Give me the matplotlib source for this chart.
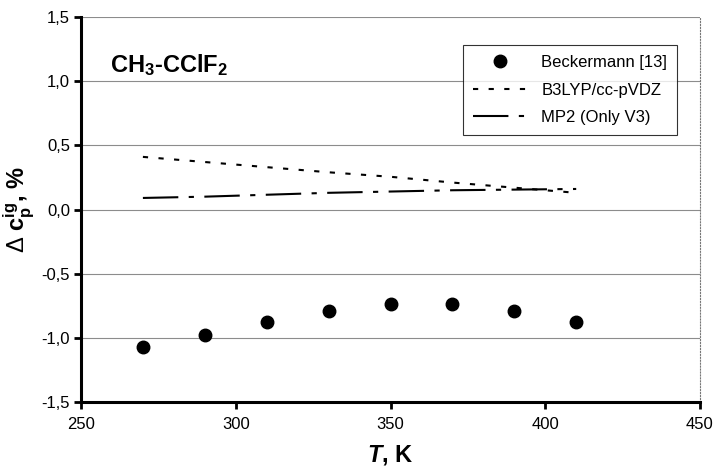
import matplotlib.pyplot as plt

plt.rcParams['font.family'] = ['Liberation Sans', 'DejaVu Sans']
plt.rcParams['mathtext.fontset'] = 'custom'
plt.rcParams['mathtext.rm'] = 'Liberation Sans'
plt.rcParams['mathtext.it'] = 'Liberation Sans:italic'
plt.rcParams['mathtext.bf'] = 'Liberation Sans:bold'
plt.rcParams['mathtext.bfit'] = 'Liberation Sans:bold:italic'

temps = [270, 290, 310, 330, 350, 370, 390, 410]
beckermann = [-1.07, -0.98, -0.875, -0.79, -0.74, -0.74, -0.79, -0.875]
b3lyp = [0.41, 0.37, 0.33, 0.29, 0.255, 0.21, 0.17, 0.13]
mp2 = [0.09, 0.10, 0.115, 0.13, 0.14, 0.15, 0.155, 0.16]
xticks = [250, 300, 350, 400, 450]
yticks = [-1.5, -1.0, -0.5, 0.0, 0.5, 1.0, 1.5]

fig = plt.figure(figsize=(7.17, 4.71), dpi=100)
ax = fig.add_axes([81 / 717, 1 - 402 / 471, 619 / 717, 385 / 471])

for yv in yticks:
    ax.axhline(yv, color='#8c8c8c', lw=0.8, zorder=0)

ax.plot(temps, beckermann, 'o', color='black', ms=9, label='Beckermann [13]', zorder=3)
ax.plot(temps, b3lyp, color='black', lw=1.5, dashes=(2.5, 5), label='B3LYP/cc-pVDZ')
ax.plot(temps, mp2, color='black', lw=1.5, dashes=(17, 5, 2.5, 5), label='MP2 (Only V3)')

ax.set_xlim(250, 450)
ax.set_ylim(-1.5, 1.5)
ax.set_xticks(xticks)
ax.set_yticks(yticks)
ax.set_xticklabels([str(v) for v in xticks], fontsize=12)
ax.set_yticklabels([('%.1f' % v).replace('.', ',') for v in yticks], fontsize=12)
ax.tick_params(axis='both', direction='out', length=5, width=2, color='black')
ax.tick_params(axis='y', pad=3)
ax.tick_params(axis='x', pad=6)

ax.spines['left'].set_linewidth(2.2)
ax.spines['bottom'].set_linewidth(2.2)
ax.spines['top'].set_visible(False)
ax.spines['right'].set_color('#777777')
ax.spines['right'].set_linewidth(0.8)
ax.spines['right'].set_linestyle(':')

ax.text((110 - 81) / 619, (402 - 65) / 385, r'$\mathbf{CH_3}$-$\mathbf{CClF_2}$',
        transform=ax.transAxes, fontsize=17, fontweight='bold', va='center', ha='left')

ax.set_xlabel(r'$\mathbfit{T}$, K', fontsize=17, fontweight='bold', labelpad=8)
ax.set_ylabel(r'$\Delta\ \mathbf{c_p^{ig}}$, %', fontsize=17, fontweight='bold', labelpad=4)

leg = ax.legend(loc='upper right', bbox_to_anchor=(0.963, 0.927), fontsize=12,
                frameon=True, fancybox=False, edgecolor='black', handlelength=3.2,
                handletextpad=0.9, labelspacing=0.75, borderpad=0.6, borderaxespad=0)
leg.get_frame().set_linewidth(0.8)

fig.savefig('out.png', dpi=100)
